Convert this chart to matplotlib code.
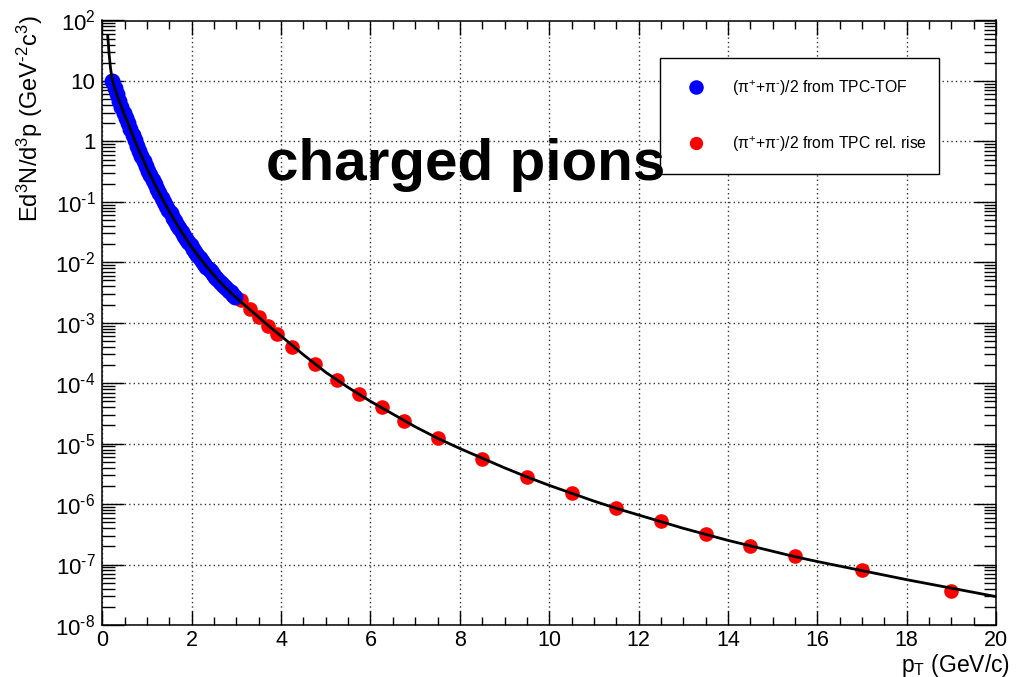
import matplotlib
matplotlib.use("Agg")
import matplotlib.pyplot as plt
from matplotlib.ticker import MultipleLocator, FixedLocator, FixedFormatter, LogLocator, NullFormatter
import numpy as np

plt.rcParams['font.family'] = ['Liberation Sans', 'DejaVu Sans']
plt.rcParams['mathtext.fontset'] = 'custom'
plt.rcParams['mathtext.rm'] = 'Liberation Sans'
plt.rcParams['mathtext.it'] = 'Liberation Sans:italic'
plt.rcParams['mathtext.bf'] = 'Liberation Sans:bold'
plt.rcParams['mathtext.default'] = 'regular'

# ---- data ----
tof_pt = [0.225, 0.275, 0.325, 0.375, 0.425, 0.475, 0.525, 0.575, 0.625, 0.675,
          0.725, 0.775, 0.825, 0.875, 0.925, 0.975, 1.025, 1.075, 1.125, 1.175,
          1.225, 1.275, 1.325, 1.375, 1.425, 1.475, 1.525, 1.575, 1.625, 1.675,
          1.725, 1.775, 1.825, 1.875, 1.925, 1.975, 2.025, 2.075, 2.125, 2.175,
          2.225, 2.275, 2.325, 2.375, 2.425, 2.475, 2.525, 2.575, 2.625, 2.675,
          2.725, 2.775, 2.825, 2.875, 2.925, 2.975]
tof_y = [10.0, 7.6, 6.0, 4.7, 3.7, 3.0, 2.45, 1.99, 1.59, 1.28,
         1.04, 0.85, 0.69, 0.575, 0.48, 0.39, 0.324, 0.275, 0.229, 0.195,
         0.162, 0.138, 0.117, 0.100, 0.087, 0.074, 0.0646, 0.0550, 0.0479, 0.0417,
         0.0363, 0.0316, 0.0275, 0.0245, 0.0214, 0.0191, 0.0166, 0.0148, 0.0132, 0.0117,
         0.0107, 0.0095, 0.0085, 0.0078, 0.0071, 0.0065, 0.0058, 0.0052, 0.0048, 0.0044,
         0.0041, 0.0037, 0.0034, 0.0032, 0.0029, 0.0027]

rr_pt = [2.1, 2.3, 2.5, 2.7, 2.9, 3.1, 3.3, 3.5, 3.7, 3.9, 4.25, 4.75, 5.25, 5.75,
         6.25, 6.75, 7.5, 8.5, 9.5, 10.5, 11.5, 12.5, 13.5, 14.5, 15.5, 17.0, 19.0]
rr_y = [0.0138, 0.0089, 0.0060, 0.0041, 0.0029, 2.4e-3, 1.7e-3, 1.25e-3, 9.0e-4, 6.6e-4,
        4.0e-4, 2.05e-4, 1.13e-4, 6.6e-5, 4.0e-5, 2.4e-5, 1.22e-5, 5.66e-6, 2.81e-6,
        1.53e-6, 8.6e-7, 5.2e-7, 3.16e-7, 2.04e-7, 1.37e-7, 8.0e-8, 3.6e-8]

fit_pt = [0.12, 0.15, 0.18, 0.22, 0.26, 0.30, 0.35, 0.40, 0.50, 0.60, 0.70, 0.80, 0.90,
          1.0, 1.2, 1.4, 1.6, 1.8, 2.0, 2.2, 2.4, 2.6, 2.8, 3.0, 3.25, 3.5, 3.75, 4.0,
          4.5, 5.0, 5.5, 6.0, 6.5, 7.0, 7.5, 8.0, 8.5, 9.0, 9.5, 10.0, 10.5, 11.0, 11.5,
          12.0, 12.5, 13.0, 13.5, 14.0, 14.5, 15.0, 15.5, 16.0, 17.0, 18.0, 19.0, 20.0]
fit_log = [1.74, 1.45, 1.22, 1.02, 0.92, 0.83, 0.72, 0.62, 0.43, 0.25, 0.06, -0.12, -0.28,
           -0.45, -0.75, -1.03, -1.29, -1.53, -1.75, -1.95, -2.13, -2.30, -2.45, -2.59,
           -2.75, -2.91, -3.07, -3.22, -3.53, -3.82, -4.07, -4.30, -4.51, -4.72, -4.91,
           -5.08, -5.24, -5.40, -5.55, -5.69, -5.82, -5.95, -6.07, -6.18, -6.29, -6.40,
           -6.50, -6.60, -6.69, -6.78, -6.87, -6.95, -7.10, -7.25, -7.39, -7.53]

ytick_vals = [1e2, 1e1, 1e0, 1e-1, 1e-2, 1e-3, 1e-4, 1e-5, 1e-6, 1e-7, 1e-8]
ytick_labels = ['$10^{2}$', '10', '1', '$10^{\\text{-}1}$', '$10^{\\text{-}2}$',
                '$10^{\\text{-}3}$', '$10^{\\text{-}4}$', '$10^{\\text{-}5}$',
                '$10^{\\text{-}6}$', '$10^{\\text{-}7}$', '$10^{\\text{-}8}$']
xtick_vals = [0, 2, 4, 6, 8, 10, 12, 14, 16, 18, 20]

label_tof = '($\\pi^{+}$+$\\pi^{\\text{-}}$)/2 from TPC-TOF'
label_rr = '($\\pi^{+}$+$\\pi^{\\text{-}}$)/2 from TPC rel. rise'

# ---- figure ----
fig = plt.figure(figsize=(10.23, 6.77), dpi=100)
ax = fig.add_axes([102.4 / 1023, 1 - 625 / 677, (996 - 102.4) / 1023, (625 - 20.5) / 677])

ax.set_xlim(0, 20)
ax.set_ylim(1e-8, 1e2)
ax.set_yscale('log')

h_rr, = ax.plot(rr_pt, rr_y, 'o', color='#ff0000', ms=9.5, mec='#ff0000', zorder=3, label=label_rr)
h_tof, = ax.plot(tof_pt, tof_y, 'o', color='#0000ff', ms=10.5, mec='#0000ff', zorder=4, label=label_tof)
ax.plot(fit_pt, [10 ** v for v in fit_log], '-', color='black', lw=2.0, zorder=5)

# axes / ticks
ax.xaxis.set_major_locator(FixedLocator(xtick_vals))
ax.xaxis.set_minor_locator(MultipleLocator(0.5))
ax.yaxis.set_major_locator(FixedLocator(ytick_vals))
ax.yaxis.set_major_formatter(FixedFormatter(ytick_labels))
ax.yaxis.set_minor_locator(LogLocator(base=10, subs=np.arange(2, 10), numticks=100))
ax.yaxis.set_minor_formatter(NullFormatter())

ax.tick_params(axis='x', which='major', direction='in', length=10, width=1.0,
               top=True, bottom=True, labelsize=15.5, pad=3.5)
ax.tick_params(axis='x', which='minor', direction='in', length=5.5, width=1.0,
               top=True, bottom=True)
ax.tick_params(axis='y', which='major', direction='in', length=16, width=1.0,
               left=True, right=True, labelsize=16, pad=5)
ax.tick_params(axis='y', which='minor', direction='in', length=9, width=1.0,
               left=True, right=True)
for s in ax.spines.values():
    s.set_linewidth(1.1)

ax.grid(True, which='major', linestyle=(0, (1, 2.2)), color='#333333', linewidth=1.0)
ax.set_axisbelow(True)

# legend
leg = ax.legend(handles=[h_tof, h_rr], loc='upper left',
                bbox_to_anchor=(0.624, 0.0, 0.3126, 0.938), mode='expand',
                borderaxespad=0, fontsize=11.3, frameon=True, fancybox=False,
                edgecolor='black', framealpha=1, borderpad=1.3, handlelength=2.0,
                handletextpad=1.3, labelspacing=2.3, markerscale=0.9)
leg.get_frame().set_linewidth(1.0)
leg.set_zorder(6)

ax.text(0.183, 0.736, 'charged pions', transform=ax.transAxes, fontsize=42,
        fontweight='bold', ha='left', va='baseline', zorder=7)

fig.text(1010 / 1023, 1 - 672 / 677, 'p$_{T}$ (GeV/c)', fontsize=16.5, ha='right', va='baseline')
fig.text(30 / 1023, 1 - 15 / 677, 'Ed$^{3}$N/d$^{3}$p (GeV$^{\\text{-}2}$c$^{3}$)', fontsize=17,
         rotation=90, ha='center', va='top')

fig.savefig('out.png', dpi=100)
